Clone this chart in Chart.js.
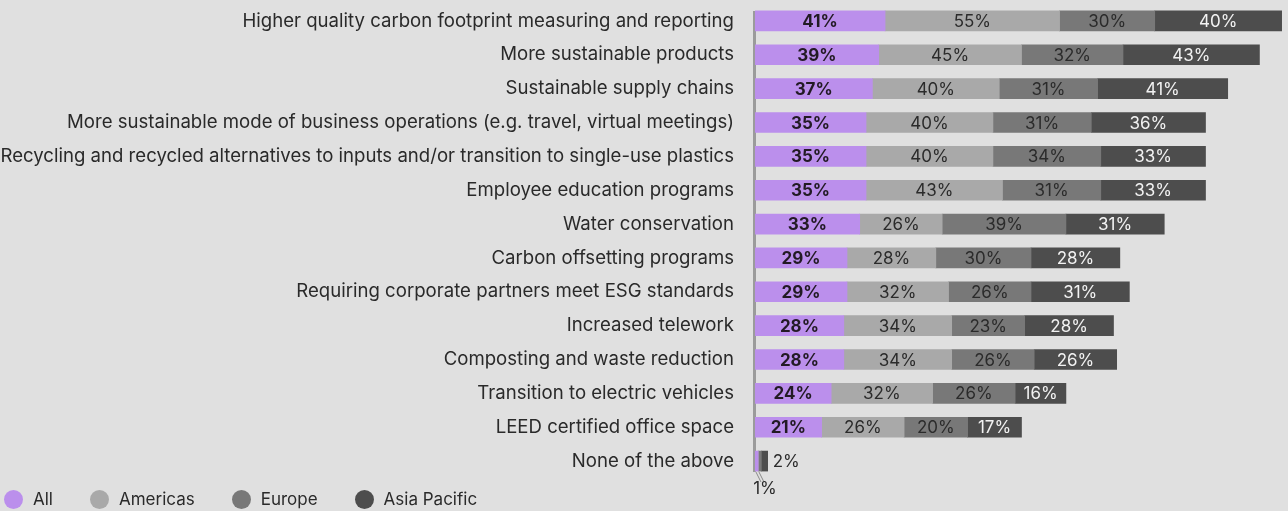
<!DOCTYPE html>
<html>
<head>
<meta charset="utf-8">
<script src="https://cdn.jsdelivr.net/npm/chart.js@4.4.0/dist/chart.umd.min.js"></script>
<style>
  html, body { margin: 0; padding: 0; background: #e0e0e0; }
  #wrap { position: relative; width: 1288px; height: 511px; }
  #legend { position: absolute; left: 4px; top: 489px; display: flex; align-items: center;
            font-family: Inter, "Noto Sans", sans-serif; font-size: 17px; color: #2a2a2a; }
  #legend .item { display: flex; align-items: center; margin-right: 37px; }
  #legend .dot { width: 19px; height: 19px; border-radius: 50%; margin-right: 10px; }
</style>
</head>
<body>
<div id="wrap">
  <canvas id="barChart"></canvas>
  <div id="legend"></div>
</div>
<script>
var categories = [
  'Higher quality carbon footprint measuring and reporting',
  'More sustainable products',
  'Sustainable supply chains',
  'More sustainable mode of business operations (e.g. travel, virtual meetings)',
  'Recycling and recycled alternatives to inputs and/or transition to single-use plastics',
  'Employee education programs',
  'Water conservation',
  'Carbon offsetting programs',
  'Requiring corporate partners meet ESG standards',
  'Increased telework',
  'Composting and waste reduction',
  'Transition to electric vehicles',
  'LEED certified office space',
  'None of the above'
];
var seriesNames = ['All', 'Americas', 'Europe', 'Asia Pacific'];
var allValues = [41, 39, 37, 35, 35, 35, 33, 29, 29, 28, 28, 24, 21, 1];
var americasValues = [55, 45, 40, 40, 40, 43, 26, 28, 32, 34, 34, 32, 26, 0];
var europeValues = [30, 32, 31, 31, 34, 31, 39, 30, 26, 23, 26, 26, 20, 1];
var asiaPacificValues = [40, 43, 41, 36, 33, 33, 31, 28, 31, 28, 26, 16, 17, 2];

var seriesColors = ['#bb8fec', '#a9a9a9', '#787878', '#4d4d4d'];
var labelColors = ['#221a24', '#2b2b2b', '#2b2b2b', '#f2f2f2'];
var FONT = 'Inter, "Noto Sans", sans-serif';

// vertical axis line running from the first bar to the last one
var axisLine = {
  id: 'axisLine',
  beforeDatasetsDraw: function (chart) {
    var meta = chart.getDatasetMeta(0);
    var first = meta.data[0], last = meta.data[meta.data.length - 1];
    var ctx = chart.ctx;
    var x = chart.chartArea.left - 0.5;
    ctx.save();
    ctx.strokeStyle = '#9b9b9b';
    ctx.lineWidth = 3;
    ctx.beginPath();
    ctx.moveTo(x, first.y - first.height / 2);
    ctx.lineTo(x, last.y + last.height / 2 + 1);
    ctx.stroke();
    ctx.restore();
  }
};

// percentage labels in the middle of each segment
var segmentLabels = {
  id: 'segmentLabels',
  afterDatasetsDraw: function (chart) {
    var ctx = chart.ctx;
    ctx.save();
    ctx.textBaseline = 'middle';
    chart.data.datasets.forEach(function (ds, di) {
      var meta = chart.getDatasetMeta(di);
      meta.data.forEach(function (bar, i) {
        var v = ds.data[i];
        if (!v) return;
        var w = Math.abs(bar.x - bar.base);
        ctx.font = (di === 0 ? '700 ' : '400 ') + '17px ' + FONT;
        if (w > 30) {
          ctx.fillStyle = labelColors[di];
          ctx.textAlign = 'center';
          ctx.fillText(v + '%', (bar.x + bar.base) / 2, bar.y + 1);
        } else if (di === seriesNames.length - 1) {
          // small last segment: label to its right
          ctx.font = '400 17px ' + FONT;
          ctx.fillStyle = '#2b2b2b';
          ctx.textAlign = 'left';
          ctx.fillText(v + '%', bar.x + 5, bar.y + 1);
        } else if (di === 0) {
          // small first segment: label below with leader lines
          var bottom = bar.y + bar.height / 2;
          ctx.strokeStyle = '#8a8a8a';
          ctx.lineWidth = 1;
          ctx.beginPath();
          ctx.moveTo(bar.base + 1, bottom + 1);
          ctx.lineTo(bar.base + 6, bottom + 11);
          ctx.moveTo(bar.base + 4, bottom + 1);
          ctx.lineTo(bar.base + 9, bottom + 11);
          ctx.stroke();
          ctx.font = '400 17px ' + FONT;
          ctx.fillStyle = '#2b2b2b';
          ctx.textAlign = 'center';
          ctx.fillText(v + '%', bar.base + 10, bottom + 18);
        }
      });
    });
    ctx.restore();
  }
};

var seriesData = [allValues, americasValues, europeValues, asiaPacificValues];
var datasets = seriesNames.map(function (name, i) {
  return {
    label: name,
    data: seriesData[i],
    backgroundColor: seriesColors[i],
    borderWidth: 0,
    barThickness: 20
  };
});

var ctx = document.getElementById('barChart');
var barChart = new Chart(ctx, {
  type: 'bar',
  data: { labels: categories, datasets: datasets },
  options: {
    indexAxis: 'y',
    responsive: true,
    maintainAspectRatio: false,
    animation: false,
    layout: { padding: { top: 4, bottom: 33, left: 0, right: 0 } },
    plugins: {
      legend: { display: false },
      tooltip: { enabled: false }
    },
    scales: {
      x: {
        stacked: true,
        display: false,
        min: 0,
        max: 168
      },
      y: {
        stacked: true,
        grid: { display: false, drawTicks: false },
        border: { display: false },
        ticks: {
          padding: 21,
          color: '#2a2a2a',
          font: { family: FONT, size: 18.6 }
        },
        afterFit: function (scale) {
          scale.width = 755;
          scale.paddingTop = 0;
          scale.paddingBottom = 0;
        }
      }
    }
  },
  plugins: [axisLine, segmentLabels]
});

// html legend
var legend = document.getElementById('legend');
seriesNames.forEach(function (name, i) {
  var item = document.createElement('div');
  item.className = 'item';
  var dot = document.createElement('span');
  dot.className = 'dot';
  dot.style.background = seriesColors[i];
  var txt = document.createElement('span');
  txt.textContent = name;
  item.appendChild(dot);
  item.appendChild(txt);
  legend.appendChild(item);
});
</script>
</body>
</html>
